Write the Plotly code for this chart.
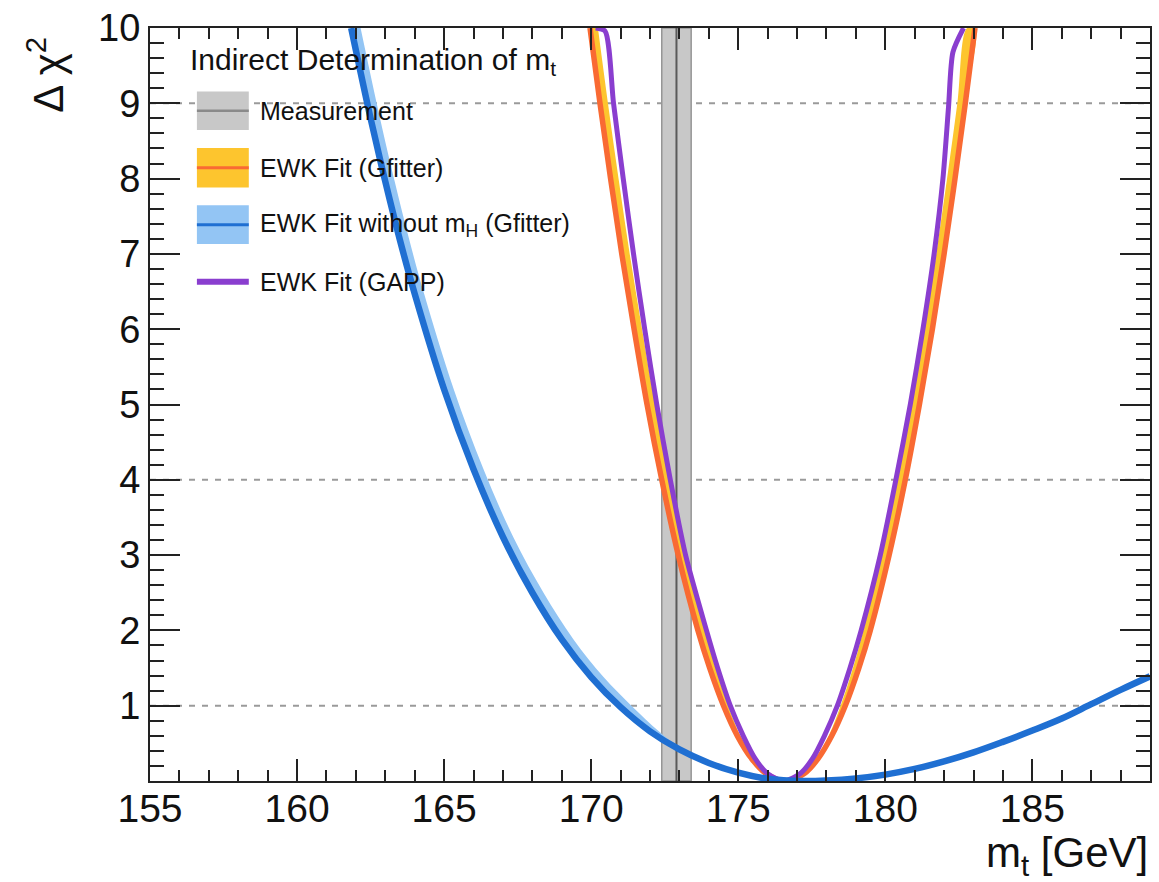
import plotly.graph_objects as go

# ---- data -------------------------------------------------------------
# Direct top-quark mass measurement [GeV]: central value and uncertainty
mt_meas = 172.9
mt_meas_err = 0.5

# EWK fit (Gfitter): Δχ² profile, left branch (top -> minimum) then right branch
gf_mt = [169.96, 170.3, 170.66, 171.04, 171.46, 171.9, 172.4, 172.96, 173.63, 174.03, 174.5, 174.97,
         175.45, 175.94, 176.6, 177.25, 177.72, 178.18, 178.64, 179.1, 179.49, 180.13, 180.68,
         181.16, 181.6, 182.0, 182.37, 182.72, 183.05]
gf_dchi2 = [10, 9, 8, 7, 6, 5, 4, 3, 2, 1.5, 1, 0.6, 0.3, 0.1, 0, 0.1, 0.3, 0.6, 1, 1.5, 2, 3, 4,
            5, 6, 7, 8, 9, 10]
# inner edge of the Gfitter band, at the same Δχ² levels
gf_band_mt = [170.23, 170.57, 170.93, 171.31, 171.73, 172.17, 172.67, 173.23, 173.87, 174.23, 174.66,
              175.07, 175.5, 175.94, 176.6, 177.25, 177.67, 178.08, 178.48, 178.9, 179.25, 179.86,
              180.41, 180.89, 181.33, 181.73, 182.1, 182.45, 182.78]

# EWK fit without m_H (Gfitter)
nomh_mt = [161.84, 162.5, 163.0, 163.5, 164.0, 165.0, 166.0, 167.0, 168.0, 169.0, 170.0, 171.0,
           172.0, 173.0, 174.0, 175.0, 176.0, 177.2, 178.0, 179.0, 180.0, 181.0, 182.0, 183.0,
           184.0, 185.0, 186.0, 187.0, 188.0, 189.0]
nomh_dchi2 = [10.0, 8.80, 7.96, 7.18, 6.47, 5.20, 4.14, 3.24, 2.50, 1.88, 1.38, 0.98,
              0.66, 0.42, 0.24, 0.11, 0.03, 0.0, 0.007, 0.035, 0.085, 0.16, 0.26, 0.38,
              0.52, 0.67, 0.83, 1.02, 1.21, 1.39]
# inner edge of its band (left branch only)
nomh_band_mt = [162.16, 162.82, 163.32, 163.82, 164.32, 165.33, 166.34, 167.35, 168.38, 169.4,
                170.42, 171.42, 172.3, 173.1, 174.0]
nomh_band_dchi2 = [10.0, 8.80, 7.96, 7.18, 6.47, 5.20, 4.14, 3.24, 2.50, 1.88,
                   1.38, 0.98, 0.66, 0.42, 0.24]

# EWK fit (GAPP)
gapp_mt = [170.15, 170.47, 170.76, 171.09, 171.44, 171.82, 172.23, 172.69, 173.21, 173.92, 174.3,
           174.73, 175.17, 175.57, 175.99, 176.55, 177.11, 177.53, 177.93, 178.37, 178.8, 179.18,
           179.83, 180.36, 180.85, 181.28, 181.66, 181.96, 182.15, 182.3, 182.66]
gapp_dchi2 = [10, 9.96, 9, 8, 7, 6, 5, 4, 3, 2, 1.5, 1, 0.6, 0.3, 0.1, 0, 0.1, 0.3, 0.6, 1, 1.5,
              2, 3, 4, 5, 6, 7, 8, 8.95, 9.68, 10]

x_ticks = [155, 160, 165, 170, 175, 180, 185]
y_ticks = [1, 2, 3, 4, 5, 6, 7, 8, 9, 10]
ref_levels = [1, 4, 9]

# ---- style --------------------------------------------------------------
FONT = "Liberation Sans, Arial, Helvetica, sans-serif"
C_ORANGE = "#f96a33"
C_YELLOW = "#fdc52e"
C_BLUE = "#1f6fd2"
C_LBLUE = "#93c5f4"
C_PURPLE = "#8a3ecf"
C_GRAY = "#c8c8c8"
C_GRAY_EDGE = "#969696"
C_GRAY_LINE = "#5a5a5a"
AX = "#222222"
SPL = dict(shape="spline", smoothing=1.0)

fig = go.Figure()

# measurement band and central value
m_lo, m_hi = mt_meas - mt_meas_err, mt_meas + mt_meas_err
fig.add_trace(go.Scatter(x=[m_lo, m_lo, m_hi, m_hi, m_lo], y=[0, 10, 10, 0, 0],
                         mode="lines", fill="toself", fillcolor=C_GRAY,
                         line=dict(color=C_GRAY_EDGE, width=1.5), hoverinfo="skip"))
fig.add_trace(go.Scatter(x=[mt_meas, mt_meas], y=[0, 10], mode="lines",
                         line=dict(color=C_GRAY_LINE, width=2), hoverinfo="skip"))

# Gfitter band + central curve
fig.add_trace(go.Scatter(x=gf_mt + gf_band_mt[::-1], y=gf_dchi2 + gf_dchi2[::-1],
                         mode="lines", fill="toself", fillcolor=C_YELLOW,
                         line=dict(width=0, **SPL), hoverinfo="skip"))
fig.add_trace(go.Scatter(x=gf_mt, y=gf_dchi2, mode="lines",
                         line=dict(color=C_ORANGE, width=5.5, **SPL)))

# GAPP
fig.add_trace(go.Scatter(x=gapp_mt, y=gapp_dchi2, mode="lines",
                         line=dict(color=C_PURPLE, width=5, shape="spline", smoothing=0.7)))

# without m_H: band + central curve
n_b = len(nomh_band_mt)
fig.add_trace(go.Scatter(x=nomh_band_mt + nomh_mt[:n_b][::-1],
                         y=nomh_band_dchi2 + nomh_dchi2[:n_b][::-1],
                         mode="lines", fill="toself", fillcolor=C_LBLUE,
                         line=dict(width=0, **SPL), hoverinfo="skip"))
fig.add_trace(go.Scatter(x=nomh_mt, y=nomh_dchi2, mode="lines",
                         line=dict(color=C_BLUE, width=6.5, **SPL)))

# dashed reference levels
for lv in ref_levels:
    fig.add_shape(type="line", xref="x domain", x0=0, x1=1, yref="y", y0=lv, y1=lv,
                  line=dict(color="#9a9a9a", width=2, dash="6px,7px"), layer="below")

# ---- manual legend ------------------------------------------------------
PX_L, PX_W, PX_T, PX_H = 150.0, 1002.0, 21.0, 760.0


def px(xp):
    return (xp - PX_L) / PX_W


def py(yp):
    return 1 - (yp - PX_T) / PX_H


sym_x0, sym_x1 = px(197), px(249)
rows = [104.5, 162, 219.5, 277]

# Measurement
fig.add_shape(type="rect", xref="paper", yref="paper", x0=sym_x0, x1=sym_x1,
              y0=py(124), y1=py(85), fillcolor=C_GRAY, line=dict(width=0))
fig.add_shape(type="line", xref="paper", yref="paper", x0=sym_x0, x1=sym_x1,
              y0=py(rows[0]), y1=py(rows[0]), line=dict(color="#8a8a8a", width=2.5))
# Gfitter
fig.add_shape(type="rect", xref="paper", yref="paper", x0=sym_x0, x1=sym_x1,
              y0=py(182), y1=py(142), fillcolor=C_YELLOW, line=dict(width=0))
fig.add_shape(type="line", xref="paper", yref="paper", x0=sym_x0, x1=sym_x1,
              y0=py(rows[1]), y1=py(rows[1]), line=dict(color=C_ORANGE, width=3))
# without m_H
fig.add_shape(type="rect", xref="paper", yref="paper", x0=sym_x0, x1=sym_x1,
              y0=py(239), y1=py(200), fillcolor=C_LBLUE, line=dict(width=0))
fig.add_shape(type="line", xref="paper", yref="paper", x0=sym_x0, x1=sym_x1,
              y0=py(rows[2]), y1=py(rows[2]), line=dict(color=C_BLUE, width=3))
# GAPP
fig.add_shape(type="line", xref="paper", yref="paper", x0=sym_x0, x1=sym_x1,
              y0=py(rows[3]), y1=py(rows[3]), line=dict(color=C_PURPLE, width=6))

labels = ["Measurement", "EWK Fit (Gfitter)", "EWK Fit without m<sub>H</sub> (Gfitter)", "EWK Fit (GAPP)"]
for lab, ry in zip(labels, rows):
    fig.add_annotation(text=lab, xref="paper", yref="paper", x=px(258), y=py(ry),
                       xanchor="left", yanchor="middle", showarrow=False,
                       font=dict(family=FONT, size=25, color="#111"))

fig.add_annotation(text="Indirect Determination of m<sub>t</sub>", xref="paper", yref="paper",
                   x=px(188), y=py(55), xanchor="left", yanchor="middle", showarrow=False,
                   font=dict(family=FONT, size=30, color="#111"))

# axis titles
fig.add_annotation(text="m<sub>t</sub> [GeV]", xref="paper", yref="paper", x=1.0, y=py(856),
                   xanchor="right", yanchor="middle", showarrow=False,
                   font=dict(family=FONT, size=42, color="#111"))
fig.add_annotation(text="Δ χ<sup>2</sup>", xref="paper", yref="paper", x=px(45), y=py(68),
                   xanchor="center", yanchor="middle", textangle=-90, showarrow=False,
                   font=dict(family=FONT, size=42, color="#111"))

fig.update_layout(
    width=1159, height=882,
    margin=dict(l=150, r=7, t=21, b=101),
    paper_bgcolor="white", plot_bgcolor="white",
    showlegend=False,
    font=dict(family=FONT, color="#111"),
)
fig.update_xaxes(range=[155, 189], tickmode="array", tickvals=x_ticks,
                 ticks="inside", ticklen=22, tickwidth=2, tickcolor=AX,
                 minor=dict(tickmode="linear", tick0=155, dtick=1, ticks="inside",
                            ticklen=11, tickwidth=2, tickcolor=AX),
                 showline=True, linecolor=AX, linewidth=2, mirror="allticks",
                 showgrid=False, zeroline=False, ticklabelstandoff=-8,
                 tickfont=dict(family=FONT, size=39, color="#111"))
fig.update_yaxes(range=[0, 10], tickmode="array", tickvals=y_ticks,
                 ticks="inside", ticklen=30, tickwidth=2, tickcolor=AX,
                 minor=dict(tickmode="linear", tick0=0, dtick=0.2, ticks="inside",
                            ticklen=14, tickwidth=2, tickcolor=AX),
                 showline=True, linecolor=AX, linewidth=2, mirror="allticks",
                 showgrid=False, zeroline=False,
                 tickfont=dict(family=FONT, size=38, color="#111"))

fig.write_html("out.html")
